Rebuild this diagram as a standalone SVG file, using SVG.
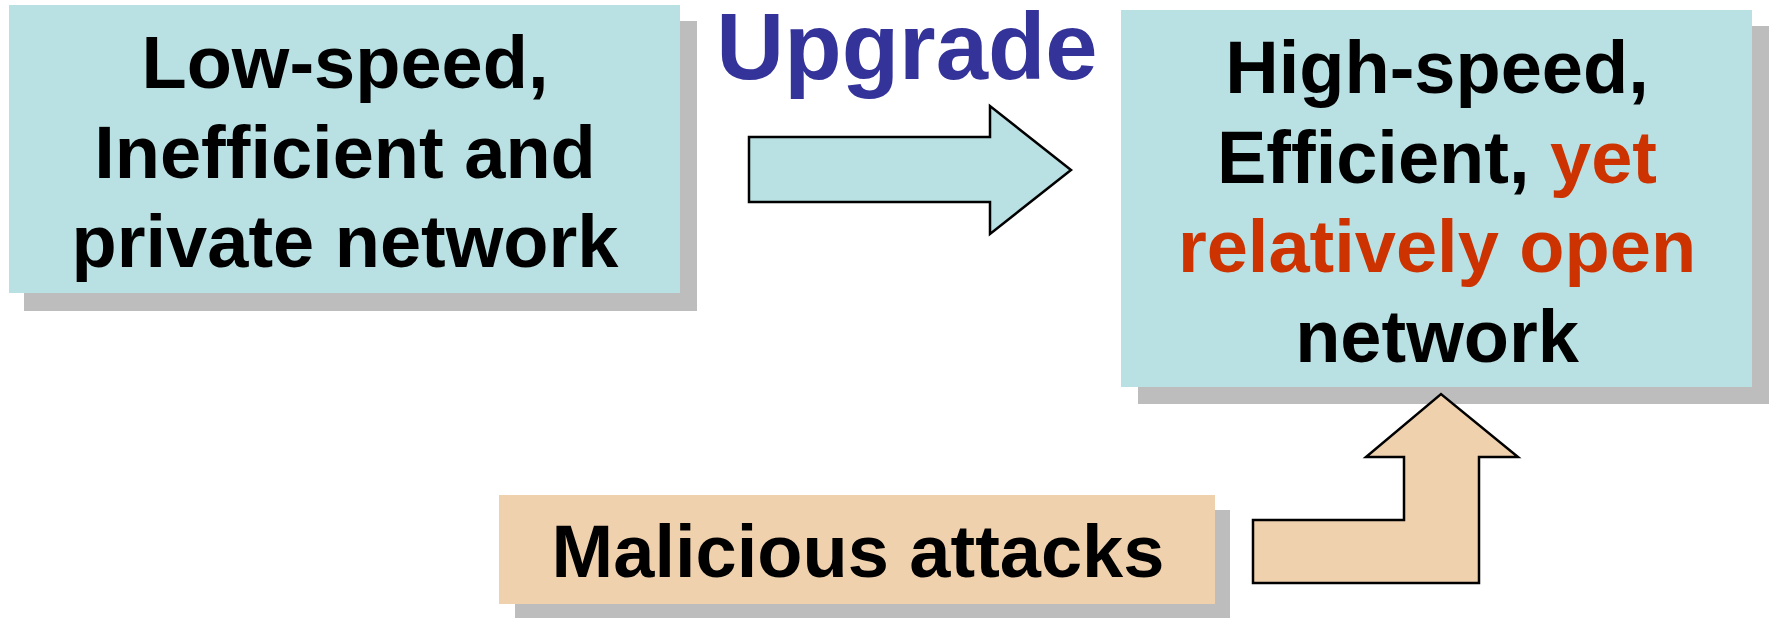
<svg xmlns="http://www.w3.org/2000/svg" width="1770" height="618" viewBox="0 0 1770 618">
<style>
.shadow{fill:#BDBDBD}
.teal{fill:#B9E0E3}
.peach{fill:#F0D1AE}
.t{font-family:"Liberation Sans",Arial,sans-serif;font-weight:bold;font-size:74px;fill:#000;text-anchor:middle}
.red{fill:#CC3300}
.arrow{stroke:#000;stroke-width:2.5;stroke-linejoin:miter}
</style>
<rect width="1770" height="618" fill="#fff"/>
<g id="node-low">
<rect class="shadow" x="24" y="21" width="673" height="290"/>
<rect class="teal" x="9" y="5" width="671" height="288"/>
<rect class="shadow" x="90" y="293" width="8" height="5"/>
<text class="t" x="345" y="88">Low-speed,</text>
<text class="t" x="345" y="178">Inefficient and</text>
<text class="t" x="345" y="267">private network</text>
</g>
<g id="node-high">
<rect class="shadow" x="1138" y="26" width="631" height="378"/>
<rect class="teal" x="1121" y="10" width="631" height="377"/>
<text class="t" x="1437" y="93">High-speed,</text>
<text class="t" x="1437" y="183">Efficient, <tspan class="red">yet</tspan></text>
<text class="t red" x="1437" y="272">relatively open</text>
<text class="t" x="1437" y="362">network</text>
</g>
<g id="node-attacks">
<rect class="shadow" x="515" y="510" width="715" height="108"/>
<rect class="peach" x="499" y="495" width="716" height="109"/>
<text class="t" x="858" y="577">Malicious attacks</text>
</g>
<g id="label-upgrade">
<text x="907" y="79" style="font-family:'Liberation Sans',Arial,sans-serif;font-weight:bold;font-size:94px;fill:#333399;text-anchor:middle">Upgrade</text>
</g>
<g id="connectors">
<polygon class="teal arrow" points="749,137 990,137 990,106 1071,170 990,234 990,202 749,202"/>
<polygon class="peach arrow" points="1253,583 1253,520 1404,520 1404,457 1366,457 1441,394 1518,457 1479,457 1479,583"/>
</g>
</svg>
